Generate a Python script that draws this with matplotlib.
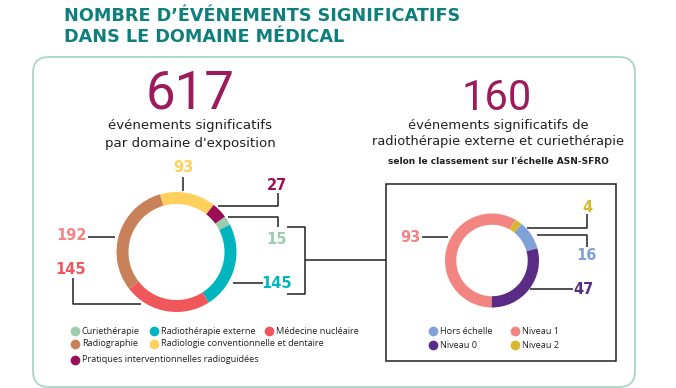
import matplotlib
matplotlib.use("Agg")
import matplotlib.pyplot as plt
from matplotlib.patches import FancyBboxPatch, Rectangle

W, H = 676, 388

# --- data ---
domains = ["Radiologie conventionnelle et dentaire", "Pratiques interventionnelles radioguidées",
           "Curiethérapie", "Radiothérapie externe", "Médecine nucléaire", "Radiographie"]
domain_counts = [93, 27, 15, 145, 145, 192]
domain_colors = ["#FFD05C", "#9B0F57", "#9DCBAE", "#00B5BE", "#F0575A", "#C98159"]

levels = ["Niveau 2", "Hors échelle", "Niveau 0", "Niveau 1"]
level_counts = [4, 16, 47, 93]
level_colors = ["#D6B92C", "#7FA1D6", "#5A2C86", "#F28582"]

total_domains = 617
total_rt = 160

TEAL = "#0E7F7C"
PURPLE = "#9B1B5C"
DARK = "#231F20"

fig = plt.figure(figsize=(W / 100, H / 100), dpi=100)
ax = fig.add_axes([0, 0, 1, 1])
ax.set_xlim(0, W)
ax.set_ylim(H, 0)
ax.axis("off")

# outer rounded frame
ax.add_patch(FancyBboxPatch((33, 57), 602, 330, boxstyle="round,pad=0,rounding_size=16",
                            fc="none", ec="#A9D6C4", lw=1.3))

# title
ax.text(64, 16, "NOMBRE D’ÉVÉNEMENTS SIGNIFICATIFS", color=TEAL, fontsize=12.7,
        fontweight="bold", va="center", ha="left")
ax.text(64, 37, "DANS LE DOMAINE MÉDICAL", color=TEAL, fontsize=12.7,
        fontweight="bold", va="center", ha="left")

# big numbers & subtitles
big = dict(color=PURPLE, family=["Roboto", "DejaVu Sans"], fontweight="normal",
           ha="center", va="center")
ax.text(190, 94, str(total_domains), fontsize=38, **big)
ax.text(190, 126, "événements significatifs", color=DARK, fontsize=9.6, ha="center", va="center")
ax.text(190, 143, "par domaine d'exposition", color=DARK, fontsize=9.6, ha="center", va="center")

ax.text(497, 98, str(total_rt), fontsize=30, **big)
ax.text(498, 125, "événements significatifs de", color=DARK, fontsize=9.4, ha="center", va="center")
ax.text(498, 141, "radiothérapie externe et curiethérapie", color=DARK, fontsize=9.4,
        ha="center", va="center")
ax.text(498, 161, "selon le classement sur l'échelle ASN-SFRO", color=DARK, fontsize=6.5,
        ha="center", va="center", fontweight="semibold")


def donut(cx, cy, r, values, colors, start, width):
    pa = fig.add_axes([(cx - r) / W, (H - cy - r) / H, 2 * r / W, 2 * r / H])
    pa.pie(values, colors=colors, startangle=start, counterclock=False,
           wedgeprops=dict(width=width, edgecolor="none"))
    pa.set_xlim(-1, 1)
    pa.set_ylim(-1, 1)
    pa.axis("off")
    return pa


donut(176.5, 252, 60, domain_counts, domain_colors, 106, 0.2)
donut(492, 260.5, 47, level_counts, level_colors, 60, 0.24)

LW = 1.1
LC = DARK


def line(xs, ys):
    ax.plot(xs, ys, color=LC, lw=LW, solid_capstyle="butt")


# left donut labels
lab = dict(fontsize=10.5, fontweight="bold", ha="center", va="center")
ax.text(183, 168, str(domain_counts[0]), color=domain_colors[0], **lab)
line([183, 183], [177, 191])
ax.text(277, 185, str(domain_counts[1]), color=domain_colors[1], **lab)
line([278, 278, 218], [193, 206, 206])
ax.text(277, 240, str(domain_counts[2]), color=domain_colors[2], **lab)
line([228, 278, 278], [217, 217, 227])
ax.text(277, 283, str(domain_counts[3]), color=domain_colors[3], **lab)
line([233, 263], [283, 283])
ax.text(72, 235, str(domain_counts[5]), color="#F28582", **lab)
line([88, 115], [237, 237])
ax.text(71, 269, str(domain_counts[4]), color=domain_colors[4], **lab)
line([73, 73, 141], [278, 304, 304])

# bracket linking to right panel
line([287, 305, 305, 287], [227, 227, 294, 294])
line([305, 386], [260, 260])
ax.add_patch(Rectangle((386, 184), 230, 177, fc="none", ec=DARK, lw=1.1))

# right donut labels
ax.text(587, 207, str(level_counts[0]), color=level_colors[0], **lab)
line([587, 587, 527], [214, 228, 228])
ax.text(587, 256, str(level_counts[1]), color=level_colors[1], **lab)
line([537, 587, 587], [235, 235, 247])
ax.text(583, 289, str(level_counts[2]), color=level_colors[2], **lab)
line([530, 573], [289, 289])
ax.text(410, 237, str(level_counts[3]), color=level_colors[3], **lab)
line([422, 448], [237, 237])

# legends
leg_font = dict(fontsize=6.6, color=DARK, va="center", ha="left", family="Open Sans")
left_leg = [("Curiethérapie", 2, 75, 331), ("Radiothérapie externe", 3, 154, 331),
            ("Médecine nucléaire", 4, 269, 331), ("Radiographie", 5, 75, 344),
            ("Radiologie conventionnelle et dentaire", 0, 154, 344),
            ("Pratiques interventionnelles radioguidées", 1, 75, 360)]
for name, i, x, y in left_leg:
    ax.plot(x, y, "o", ms=7, color=domain_colors[i], mec="none")
    ax.text(x + 7, y, name, **leg_font)

right_leg = [("Hors échelle", 1, 433, 331), ("Niveau 0", 2, 433, 345),
             ("Niveau 1", 3, 515, 331), ("Niveau 2", 0, 515, 345)]
for name, i, x, y in right_leg:
    ax.plot(x, y, "o", ms=7, color=level_colors[i], mec="none")
    ax.text(x + 7, y, name, **leg_font)

fig.savefig("out.png", dpi=100)
